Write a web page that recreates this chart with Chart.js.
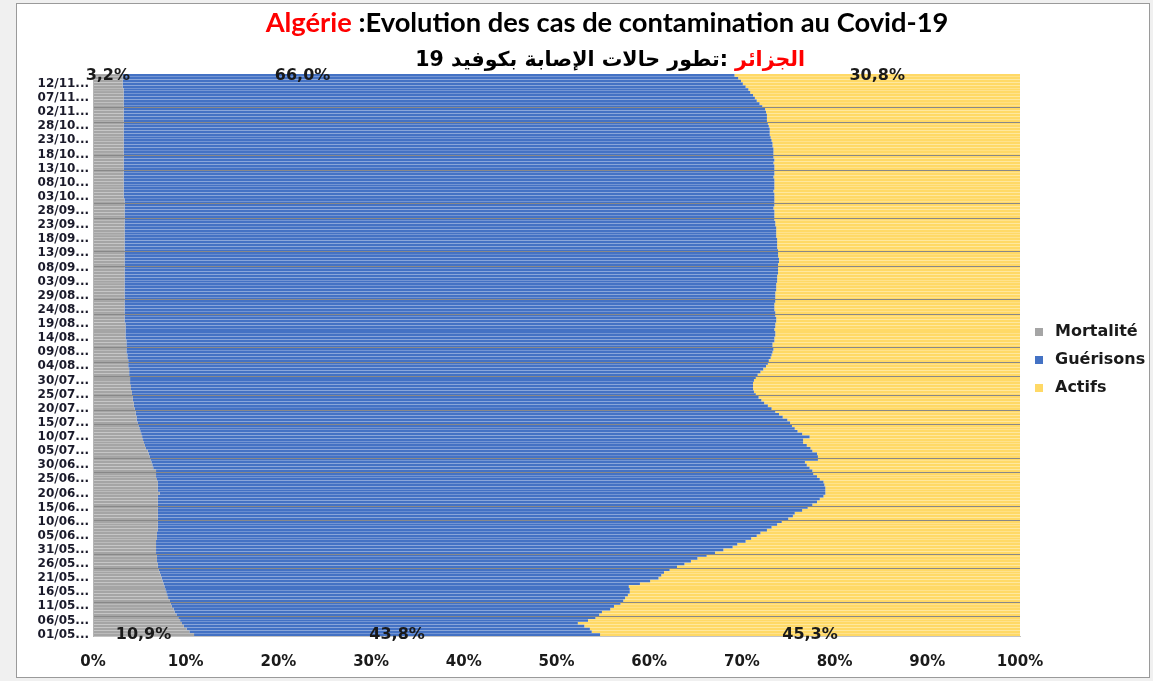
<!DOCTYPE html>
<html><head><meta charset="utf-8">
<script src="https://cdn.jsdelivr.net/npm/chart.js@4/dist/chart.umd.min.js"></script>
<style>html,body{margin:0;padding:0;background:#f0f0f0;overflow:hidden}</style>
</head><body>
<canvas id="c" width="1153" height="681"></canvas>
<script>
const dates = [
'01/05','02/05','03/05','04/05','05/05','06/05','07/05','08/05','09/05','10/05',
'11/05','12/05','13/05','14/05','15/05','16/05','17/05','18/05','19/05','20/05',
'21/05','22/05','23/05','24/05','25/05','26/05','27/05','28/05','29/05','30/05','31/05',
'01/06','02/06','03/06','04/06','05/06','06/06','07/06','08/06','09/06','10/06',
'11/06','12/06','13/06','14/06','15/06','16/06','17/06','18/06','19/06','20/06',
'21/06','22/06','23/06','24/06','25/06','26/06','27/06','28/06','29/06','30/06',
'01/07','02/07','03/07','04/07','05/07','06/07','07/07','08/07','09/07','10/07',
'11/07','12/07','13/07','14/07','15/07','16/07','17/07','18/07','19/07','20/07',
'21/07','22/07','23/07','24/07','25/07','26/07','27/07','28/07','29/07','30/07','31/07',
'01/08','02/08','03/08','04/08','05/08','06/08','07/08','08/08','09/08','10/08',
'11/08','12/08','13/08','14/08','15/08','16/08','17/08','18/08','19/08','20/08',
'21/08','22/08','23/08','24/08','25/08','26/08','27/08','28/08','29/08','30/08','31/08',
'01/09','02/09','03/09','04/09','05/09','06/09','07/09','08/09','09/09','10/09',
'11/09','12/09','13/09','14/09','15/09','16/09','17/09','18/09','19/09','20/09',
'21/09','22/09','23/09','24/09','25/09','26/09','27/09','28/09','29/09','30/09',
'01/10','02/10','03/10','04/10','05/10','06/10','07/10','08/10','09/10','10/10',
'11/10','12/10','13/10','14/10','15/10','16/10','17/10','18/10','19/10','20/10',
'21/10','22/10','23/10','24/10','25/10','26/10','27/10','28/10','29/10','30/10','31/10',
'01/11','02/11','03/11','04/11','05/11','06/11','07/11','08/11','09/11','10/11',
'11/11','12/11','13/11','14/11','15/11'
];

const mortalite = [
10.9,10.4,10.1,9.8,9.6,9.4,9.2,9.0,8.8,8.7,
8.5,8.4,8.3,8.1,8.0,7.9,7.8,7.7,7.6,7.5,
7.4,7.3,7.2,7.1,7.0,7.0,6.9,6.9,6.9,6.8,
6.8,6.8,6.8,6.8,6.9,6.9,6.9,7.0,7.0,7.0,
7.0,7.0,7.0,7.0,7.0,7.0,7.0,7.0,7.0,7.0,
7.2,7.0,7.0,7.0,7.0,6.9,6.8,6.8,6.8,6.5,
6.4,6.3,6.2,6.1,6.0,5.9,5.7,5.6,5.5,5.4,
5.3,5.2,5.1,5.0,4.9,4.8,4.7,4.7,4.6,4.6,
4.5,4.4,4.4,4.3,4.3,4.2,4.2,4.1,4.1,4.0,
4.0,4.0,3.9,3.9,3.9,3.8,3.8,3.8,3.7,3.7,
3.6,3.6,3.6,3.6,3.6,3.5,3.5,3.5,3.5,3.5,
3.5,3.4,3.4,3.4,3.4,3.4,3.4,3.4,3.4,3.4,
3.4,3.4,3.4,3.4,3.4,3.4,3.4,3.4,3.4,3.4,
3.4,3.4,3.4,3.4,3.4,3.4,3.4,3.4,3.4,3.4,
3.4,3.4,3.4,3.4,3.4,3.4,3.4,3.4,3.4,3.4,
3.4,3.4,3.4,3.4,3.4,3.3,3.3,3.3,3.3,3.3,
3.3,3.3,3.3,3.3,3.3,3.3,3.3,3.3,3.3,3.3,
3.3,3.3,3.3,3.3,3.3,3.3,3.3,3.3,3.3,3.3,
3.3,3.3,3.3,3.3,3.3,3.3,3.3,3.3,3.3,3.3,
3.3,3.3,3.3,3.3,3.2,3.2,3.2,3.2,3.2
];

const guerisons = [
43.8,43.4,43.5,43.2,42.7,44.0,45.0,45.6,46.1,47.1,
47.7,48.5,48.9,49.3,49.7,50.0,50.1,50.1,51.4,52.6,
53.6,54.0,54.4,55.1,56.0,56.8,57.6,58.3,59.3,60.3,
61.2,62.2,62.7,63.6,64.1,64.7,65.1,65.7,66.2,66.8,
67.3,68.0,68.5,68.7,69.5,70.1,70.6,71.1,71.4,71.8,
71.8,72.0,72.0,71.9,71.8,71.5,71.3,70.9,70.8,70.8,
70.6,70.5,72.0,72.1,72.1,71.7,71.7,71.4,71.1,71.2,
72.0,71.3,70.9,70.7,70.5,70.4,70.2,69.7,69.4,69.0,
68.7,68.4,68.0,67.8,67.5,67.3,67.1,67.1,67.1,67.2,
67.3,67.5,67.8,68.1,68.4,68.8,69.0,69.1,69.4,69.5,
69.7,69.8,69.7,69.7,69.9,70.0,70.1,70.1,70.0,70.1,
70.1,70.3,70.3,70.2,70.2,70.1,70.1,70.1,70.2,70.2,
70.2,70.2,70.3,70.3,70.3,70.4,70.4,70.4,70.5,70.5,
70.5,70.5,70.6,70.6,70.5,70.5,70.5,70.4,70.4,70.4,
70.4,70.3,70.3,70.3,70.3,70.2,70.2,70.1,70.1,70.1,
70.1,70.0,70.1,70.1,70.1,70.2,70.2,70.1,70.2,70.2,
70.2,70.2,70.1,70.2,70.2,70.2,70.2,70.1,70.2,70.1,
70.1,70.1,70.1,70.0,70.0,69.9,69.8,69.7,69.7,69.7,
69.6,69.5,69.4,69.4,69.4,69.3,69.2,68.9,68.6,68.3,
68.1,67.9,67.6,67.4,67.2,66.9,66.7,66.4,66.0
];

const actifs = [
45.3,46.2,46.4,47.0,47.7,46.6,45.8,45.4,45.1,44.2,
43.8,43.1,42.8,42.6,42.3,42.1,42.1,42.2,41.0,39.9,
39.0,38.7,38.4,37.8,37.0,36.2,35.5,34.8,33.8,32.9,
32.0,31.0,30.5,29.6,29.0,28.4,28.0,27.3,26.8,26.2,
25.7,25.0,24.5,24.3,23.5,22.9,22.4,21.9,21.6,21.2,
21.0,21.0,21.0,21.1,21.2,21.6,21.9,22.3,22.4,22.7,
23.0,23.2,21.8,21.8,21.9,22.4,22.6,23.0,23.4,23.4,
22.7,23.5,24.0,24.3,24.6,24.8,25.1,25.6,26.0,26.4,
26.8,27.2,27.6,27.9,28.2,28.5,28.7,28.8,28.8,28.8,
28.7,28.5,28.3,28.0,27.7,27.4,27.2,27.1,26.9,26.8,
26.7,26.6,26.7,26.7,26.5,26.5,26.4,26.4,26.5,26.4,
26.4,26.3,26.3,26.4,26.4,26.5,26.5,26.5,26.4,26.4,
26.4,26.4,26.3,26.3,26.3,26.2,26.2,26.2,26.1,26.1,
26.1,26.1,26.0,26.0,26.1,26.1,26.1,26.2,26.2,26.2,
26.2,26.3,26.3,26.3,26.3,26.4,26.4,26.5,26.5,26.5,
26.5,26.6,26.5,26.5,26.5,26.5,26.5,26.6,26.5,26.5,
26.5,26.5,26.6,26.5,26.5,26.5,26.5,26.6,26.5,26.6,
26.6,26.6,26.6,26.7,26.7,26.8,26.9,27.0,27.0,27.0,
27.1,27.2,27.3,27.3,27.3,27.4,27.5,27.8,28.1,28.4,
28.6,28.8,29.1,29.3,29.6,29.9,30.1,30.4,30.8
];

const seriesNames = ['Mortalité', 'Guérisons', 'Actifs'];
const xTickLabels = ['0%','10%','20%','30%','40%','50%','60%','70%','80%','90%','100%'];
const titleFr = ['Algérie', ':Evolution des cas de contamination au Covid-19'];
const titleAr = ['الجزائر', ':تطور حالات الإصابة بكوفيد 19'];

// category boundaries where the horizontal grid lines show through
const gridBoundaries = [7,12,24,29,41,46,58,63,75,80,85,92,97,102,114,119,131,136,148,153,165,170,182,187];

const COLORS = ['#A5A5A5', '#4472C4', '#FFD966'];

const framePlugin = {
  id: 'frame',
  beforeDraw(chart) {
    const ctx = chart.ctx;
    ctx.save();
    ctx.fillStyle = '#f0f0f0';
    ctx.fillRect(0, 0, chart.width, chart.height);
    ctx.fillStyle = '#ffffff';
    ctx.fillRect(16, 3, 1134, 675);
    ctx.strokeStyle = '#9a9a9a';
    ctx.lineWidth = 1;
    ctx.strokeRect(16.5, 3.5, 1133, 674);
    ctx.restore();
  }
};

function fitSize(ctx, weight, family, text, target) {
  ctx.font = weight + ' 100px ' + family;
  return 100 * target / ctx.measureText(text).width;
}

const titlePlugin = {
  id: 'twoTitles',
  afterDraw(chart) {
    const ctx = chart.ctx;
    ctx.save();
    ctx.textBaseline = 'alphabetic';
    ctx.textAlign = 'left';
    const famFr = "'Lato', sans-serif";
    const full1 = titleFr[0] + ' ' + titleFr[1];
    const s1 = fitSize(ctx, 'bold', famFr, full1, 683);
    ctx.font = 'bold ' + s1 + 'px ' + famFr;
    const w1 = ctx.measureText(full1).width;
    const x1 = 607 - w1 / 2;
    ctx.fillStyle = '#ff0000';
    ctx.fillText(titleFr[0], x1, 32);
    ctx.fillStyle = '#000000';
    ctx.fillText(titleFr[1], x1 + ctx.measureText(titleFr[0] + ' ').width, 32);
    const famAr = "'DejaVu Sans', sans-serif";
    const full2 = titleAr[0] + ' ' + titleAr[1];
    const s2 = fitSize(ctx, 'bold', famAr, full2, 390);
    ctx.font = 'bold ' + s2 + 'px ' + famAr;
    ctx.direction = 'rtl';
    ctx.textAlign = 'right';
    const right = 805;
    ctx.fillStyle = '#ff0000';
    ctx.fillText(titleAr[0], right, 66);
    const wr = ctx.measureText(titleAr[0] + ' ').width;
    ctx.fillStyle = '#000000';
    ctx.fillText(titleAr[1], right - wr, 66);
    ctx.restore();
  }
};

const legendPlugin = {
  id: 'sideLegend',
  afterDraw(chart) {
    const ctx = chart.ctx;
    const a = chart.chartArea;
    const mid = (a.top + a.bottom) / 2 + 5;
    ctx.save();
    ctx.font = "bold 16px 'DejaVu Sans', sans-serif";
    ctx.textBaseline = 'middle';
    ctx.textAlign = 'left';
    chart.data.datasets.forEach((ds, i) => {
      const y = mid + (i - 1) * 28;
      ctx.fillStyle = ds.backgroundColor;
      ctx.fillRect(a.right + 15, y - 4, 8, 8);
      ctx.fillStyle = '#1a1a1a';
      ctx.fillText(ds.label, a.right + 35, y);
    });
    ctx.restore();
  }
};

const endLabelsPlugin = {
  id: 'endLabels',
  afterDraw(chart, args, opts) {
    const ctx = chart.ctx;
    ctx.save();
    ctx.font = "bold 16px 'DejaVu Sans', sans-serif";
    ctx.fillStyle = '#1a1a1a';
    ctx.textAlign = 'center';
    ctx.textBaseline = 'middle';
    chart.data.datasets.forEach((ds, d) => {
      const meta = chart.getDatasetMeta(d);
      const n = ds.data.length;
      [0, n - 1].forEach((idx) => {
        const el = meta.data[idx];
        const c = el.getCenterPoint();
        const shift = idx === n - 1 ? opts.lastShift[d] : 0;
        const txt = ds.data[idx].toFixed(1).replace('.', ',') + '%';
        ctx.fillText(txt, c.x + shift, c.y);
      });
    });
    ctx.restore();
  }
};

const tickFont = { family: "'DejaVu Sans', sans-serif", weight: 'bold' };

new Chart(document.getElementById('c'), {
  type: 'bar',
  data: {
    labels: dates,
    datasets: [
      { label: seriesNames[0], data: mortalite, backgroundColor: COLORS[0] },
      { label: seriesNames[1], data: guerisons, backgroundColor: COLORS[1] },
      { label: seriesNames[2], data: actifs, backgroundColor: COLORS[2] }
    ]
  },
  options: {
    indexAxis: 'y',
    responsive: false,
    animation: false,
    datasets: { bar: { categoryPercentage: 1, barPercentage: 0.92, borderWidth: 0 } },
    layout: { padding: { top: 74, right: 133, left: 0, bottom: 0 } },
    plugins: {
      legend: { display: false },
      tooltip: { enabled: false },
      title: { display: false },
      endLabels: { lastShift: [0, -126, 0] }
    },
    scales: {
      x: {
        type: 'linear', min: 0, max: 100, stacked: true,
        grid: { display: false, drawTicks: false },
        border: { display: true, color: '#c4c4c4', z: 1 },
        ticks: { stepSize: 10, padding: 17, color: '#1a1a1a',
          font: Object.assign({ size: 15 }, tickFont),
          callback: (v, i) => xTickLabels[i] },
        afterFit: (s) => { s.height = 45; }
      },
      y: {
        type: 'category', reverse: true, stacked: true, offset: true,
        grid: { offset: true, drawTicks: false, z: 1, lineWidth: 1,
          color: (c) => gridBoundaries.includes(c.index) ? '#888888' : 'rgba(0,0,0,0)' },
        border: { display: true, color: '#b4b4b4', z: 1 },
        ticks: { autoSkip: false, padding: 4, color: '#1a1a2a',
          font: Object.assign({ size: 12 }, tickFont),
          callback: (v, i) => (i % 5 === 0 ? dates[i] + '...' : '') },
        afterFit: (s) => { s.width = 93; }
      }
    }
  },
  plugins: [framePlugin, titlePlugin, legendPlugin, endLabelsPlugin]
});
</script>
</body></html>
